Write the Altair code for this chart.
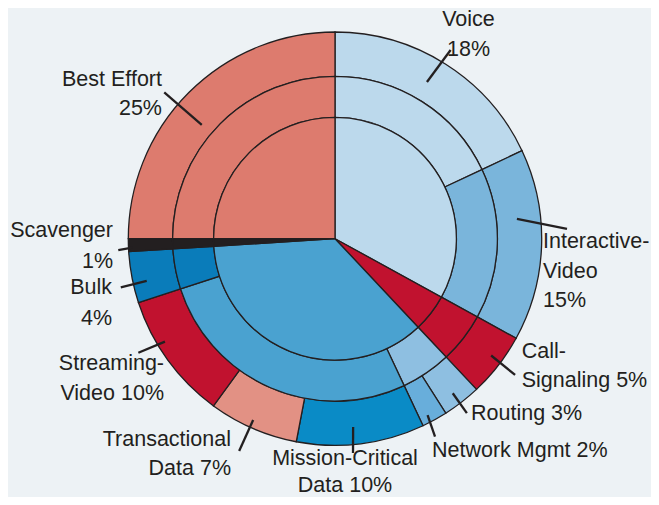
import altair as alt
import pandas as pd

# ---------------- data (percent of bandwidth) ----------------
inner_names = ["Realtime", "Call-Signaling", "Critical Data", "Scavenger", "Best Effort"]
inner_values = [33, 5, 36, 1, 25]

middle_names = ["Voice", "Interactive-Video", "Call-Signaling", "Network Control",
                "Critical Data", "Bulk", "Scavenger", "Best Effort"]
middle_values = [18, 15, 5, 5, 27, 4, 1, 25]

outer_names = ["Voice", "Interactive-Video", "Call-Signaling", "Routing", "Network Mgmt",
               "Mission-Critical Data", "Transactional Data", "Streaming-Video", "Bulk",
               "Scavenger", "Best Effort"]
outer_values = [18, 15, 5, 3, 2, 10, 7, 10, 4, 1, 25]

label_texts = ["Voice\n18%", "Interactive-\nVideo\n15%", "Call-\nSignaling 5%", "Routing 3%",
               "Network Mgmt 2%", "Mission-Critical\nData 10%", "Transactional\nData 7%",
               "Streaming-\nVideo 10%", "Bulk\n4%", "Scavenger\n1%", "Best Effort\n25%"]

# ---------------- style / layout ----------------
COLORS = {
    "Realtime": "#bcd9ec", "Voice": "#bcd9ec", "Interactive-Video": "#7ab5db",
    "Call-Signaling": "#c1122f", "Network Control": "#8ebfe1", "Routing": "#8ebfe1",
    "Network Mgmt": "#68aedb", "Critical Data": "#4aa2d0", "Mission-Critical Data": "#0a8bc6",
    "Transactional Data": "#e29184", "Streaming-Video": "#c1122f", "Bulk": "#0a7cba",
    "Scavenger": "#231f20", "Best Effort": "#dd7b6e",
}
INK = "#231f20"
BG = "#edf2f5"
W, H = 643, 489
CX, CY = 327, 230.7
R_IN, R_MID, R_OUT = 121.4, 162.4, 206.7
FONT = "Liberation Sans"

# leader lines: (angle deg, radius) of inner and outer end
leader_a1 = [30.4, 83.8, 126.8, 142.7, 152.3, 174.5, 204.3, 238.8, 257.4, 267.5, 310.5]
leader_r1 = [181.7, 183, 195, 194.3, 199.2, 189.2, 198.9, 198.8, 192.9, 203, 175.2]
leader_a2 = [31.5, 87.6, 127.1, 142.9, 153.2, 175.2, 204.3, 239.9, 257.2, 267.0, 310.6]
leader_r2 = [221.3, 232.2, 225.8, 218.6, 221.8, 215, 232.9, 227.3, 219.7, 217, 224.9]

# label anchor offsets from the centre (px, y downwards), alignment, line height
label_dx = [133.5, 208, 186.7, 136, 97, 10, -104, -171, -223, -222, -173]
label_dy = [-212.7, 9.3, 119, 181.3, 218, 226.5, 207, 131.3, 55.3, -1.7, -153]
label_align = ["center", "left", "left", "left", "left", "center", "right", "right",
               "right", "right", "right"]
label_lh = [29.5, 29.5, 29.5, 29.5, 29.5, 27, 29.5, 29.5, 30.5, 30.5, 29.5]


def ring_df(names, values):
    rows, s = [], 0
    for n, v in zip(names, values):
        rows.append({"name": n, "start": s, "end": s + v, "color": COLORS[n]})
        s += v
    return pd.DataFrame(rows)


theta_scale = alt.Scale(domain=[0, 100], range=[0, 6.283185307179586])
xs = alt.Scale(domain=[-CX, W - CX], nice=False, zero=False)
ys = alt.Scale(domain=[-(H - CY), CY], nice=False, zero=False)


def ring(names, values, r_in, r_out):
    return alt.Chart(ring_df(names, values)).mark_arc(
        radius=r_out, radius2=r_in, stroke=INK, strokeWidth=1.3
    ).encode(
        theta=alt.Theta("start:Q", stack=None, scale=theta_scale),
        theta2="end:Q",
        color=alt.Color("color:N", scale=None),
        x=alt.value(CX), y=alt.value(CY),
    )


rings = [
    ring(outer_names, outer_values, R_MID, R_OUT),
    ring(middle_names, middle_values, R_IN, R_MID),
    ring(inner_names, inner_values, 0, R_IN),
]

lead_df = pd.DataFrame({"a1": leader_a1, "r1": leader_r1, "a2": leader_a2, "r2": leader_r2})
leaders = alt.Chart(lead_df).transform_calculate(
    x1="datum.r1*sin(datum.a1*PI/180)", y1="datum.r1*cos(datum.a1*PI/180)",
    x2="datum.r2*sin(datum.a2*PI/180)", y2="datum.r2*cos(datum.a2*PI/180)",
).mark_rule(color=INK, strokeWidth=2.3).encode(
    x=alt.X("x1:Q", scale=xs, axis=None), y=alt.Y("y1:Q", scale=ys, axis=None),
    x2="x2:Q", y2="y2:Q",
)

lab_df = pd.DataFrame({"text": label_texts, "dx": label_dx, "dy": label_dy,
                       "align": label_align, "lh": label_lh})
lab_df["ny"] = -lab_df["dy"]
texts = []
for al in ["left", "center", "right"]:
    for lh in sorted(set(label_lh)):
        sub = lab_df[(lab_df["align"] == al) & (lab_df["lh"] == lh)]
        if len(sub) == 0:
            continue
        texts.append(
            alt.Chart(sub).mark_text(
                align=al, baseline="alphabetic", font=FONT, fontSize=21.5, color=INK,
                lineBreak="\n", lineHeight=lh,
            ).encode(
                x=alt.X("dx:Q", scale=xs, axis=None), y=alt.Y("ny:Q", scale=ys, axis=None),
                text="text:N",
            )
        )

chart = alt.layer(*rings, leaders, *texts).properties(
    width=W, height=H, autosize=alt.AutoSizeParams(type="none"), padding=0,
    background=BG,
).configure_view(stroke=None)

chart.save("out.html", embed_options={"renderer": "svg", "actions": False})
